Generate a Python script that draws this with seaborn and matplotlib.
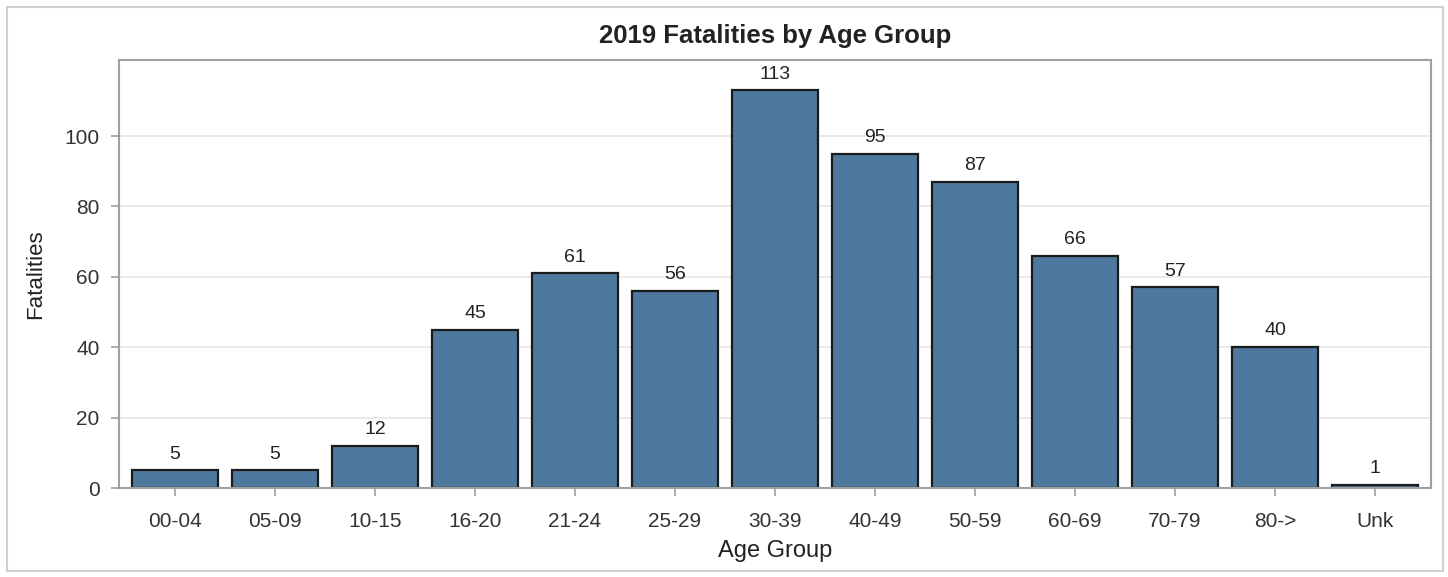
import matplotlib
matplotlib.use("Agg")
import matplotlib.pyplot as plt
import pandas as pd
import seaborn as sns
from matplotlib.patches import Rectangle

age_groups = ["00-04", "05-09", "10-15", "16-20", "21-24", "25-29", "30-39",
              "40-49", "50-59", "60-69", "70-79", "80->", "Unk"]
fatalities = [5, 5, 12, 45, 61, 56, 113, 95, 87, 66, 57, 40, 1]
y_ticks = [0, 20, 40, 60, 80, 100]

df = pd.DataFrame({"Age Group": age_groups, "Fatalities": fatalities})

sns.set_style("white")
plt.rcParams["font.family"] = ["Liberation Sans", "DejaVu Sans"]

fig = plt.figure(figsize=(14.48, 5.77), dpi=100)
ax = fig.add_axes([0.0822, 0.1542, 0.9061, 0.7418])

sns.barplot(data=df, x="Age Group", y="Fatalities", color="#4F789E",
            saturation=1, width=0.86, edgecolor="#1b1b1b", linewidth=1.6, ax=ax)

for i, v in enumerate(fatalities):
    ax.text(i, v + 2.2, str(v), ha="center", va="bottom", fontsize=14, color="#222222")

ax.set_xlim(-0.56, len(age_groups) - 0.44)
ax.set_ylim(0, 121.6)
ax.set_yticks(y_ticks)
ax.yaxis.grid(True, color="#e6e6e6", linewidth=1.2)
ax.set_axisbelow(True)

for s in ax.spines.values():
    s.set_color("#a0a0a0")
    s.set_linewidth(1.5)

ax.tick_params(axis="both", labelsize=15, colors="#a0a0a0", labelcolor="#333333",
               length=6, width=1.2, direction="out", left=True, bottom=True)
ax.tick_params(axis="x", pad=11)
ax.tick_params(axis="y", pad=8)
ax.set_xlabel("Age Group", fontsize=17, color="#222222", labelpad=7)
ax.set_ylabel("Fatalities", fontsize=16, color="#222222", labelpad=13)
ax.set_title("2019 Fatalities by Age Group", fontsize=18.5, fontweight="bold",
             color="#222222", pad=12)

# outer frame
fig.patches.append(Rectangle((7 / 1448, 6 / 577), 1436 / 1448, 564 / 577,
                             transform=fig.transFigure, fill=False,
                             edgecolor="#d0d0d0", linewidth=1.5))

fig.savefig("out.png", dpi=100)
